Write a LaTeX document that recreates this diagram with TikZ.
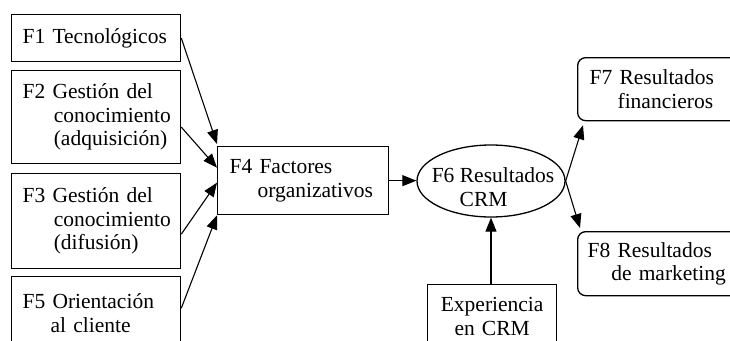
\documentclass[tikz,border=0pt]{standalone}
\usepackage{fontspec}
\setmainfont{Liberation Serif}
\usetikzlibrary{arrows.meta,calc,shapes.geometric}
\begin{document}
\begin{tikzpicture}[x=1pt,y=-1pt,
  txt/.style={font=\fontsize{21.5}{23.5}\selectfont},
  box/.style={txt, draw, line width=1.3pt, anchor=north west, inner xsep=11pt, inner ysep=0pt, align=left},
  rbox/.style={box, rounded corners=8pt},
  arr/.style={line width=1.1pt, -{Triangle[length=14pt,width=11pt]}}]
\clip (0,0) rectangle (730,340);
\fill[white] (0,0) rectangle (730,340);
\newcommand{\hi}{\hspace*{1.3em}}
\newcommand{\hj}{\hspace*{1.45em}}
\newcommand{\hk}{\hspace*{1.1em}}
% left column
\node[box, minimum width=169pt, text width=147pt, minimum height=47pt] (F1) at (11,14) {F1 Tecnológicos};
\node[box, minimum width=169pt, text width=147pt, minimum height=93pt] (F2) at (11,70) {F2 Gestión del\\\hj conocimiento\\\hj (adquisición)};
\node[box, minimum width=169pt, text width=147pt, minimum height=95pt] (F3) at (11,173) {F3 Gestión del\\\hj conocimiento\\\hj (difusión)};
\node[box, minimum width=169pt, text width=147pt, minimum height=73pt] (F5) at (11,276) {F5 Orientación\\\hi al cliente};
% middle
\node[box, minimum width=169pt, text width=147pt, minimum height=68pt, inner xsep=12pt] (F4) at (217,146) {F4 Factores\\\hi organizativos};
\node[draw, ellipse, line width=1.3pt, minimum width=148pt, minimum height=72pt, inner sep=0pt] (F6) at (491,181) {};
\node[txt, align=left, inner sep=0pt] (F6t) at (493,187) {F6 Resultados\\\hi CRM};
\node[box, align=center, minimum width=129pt, text width=107pt, minimum height=64pt] (Exp) at (427,284) {Experiencia\\en CRM};
% right
\node[rbox, minimum width=200pt, text width=176pt, minimum height=63pt, inner xsep=12pt] (F7) at (577,57) {F7 Resultados\\\hi financieros};
\node[rbox, minimum width=200pt, text width=180pt, minimum height=64pt, inner xsep=9pt] (F8) at (577,231) {F8 Resultados\\\hk de marketing};
% arrows
\draw[arr] (F1.east) -- ($(F4.north west)+(0,-2)$);
\draw[arr] ($(F2.east)+(0,10)$) -- ($(F4.west)+(0,-13)$);
\draw[arr] ($(F3.east)+(0,13)$) -- ($(F4.west)+(0,2)$);
\draw[arr] ($(F5.east)+(0,-5)$) -- (F4.south west);
\draw[arr] (F4.east) -- (F4.east -| F6.west);
\draw[arr] (F6.east) -- ($(F7.south west)+(6,4)$);
\draw[arr] (F6.east) -- ($(F8.north west)+(3,-3)$);
\draw[arr] (Exp.north -| F6.south) -- (F6.south);
\end{tikzpicture}
\end{document}
